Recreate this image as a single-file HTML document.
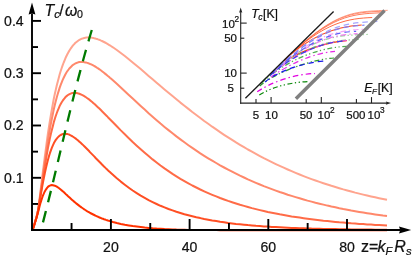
<!DOCTYPE html>
<html><head><meta charset="utf-8"><title>Tc plot</title>
<style>
html,body{margin:0;padding:0;background:#fff;}
body{width:415px;height:257px;overflow:hidden;position:relative;font-family:"Liberation Sans",sans-serif;}
svg text{font-family:"Liberation Sans",sans-serif;}
</style></head><body>
<div style="will-change:transform;position:absolute;left:0;top:0;width:415px;height:257px">
<svg width="415" height="257" viewBox="0 0 415 257" style="position:absolute;left:0;top:0">
<path d="M32.20 230.20 L32.3 230.0 L33.4 227.4 L34.4 224.3 L35.4 220.7 L36.5 217.0 L37.5 213.0 L38.6 206.3 L39.6 198.4 L40.6 190.1 L41.7 181.6 L42.7 173.1 L43.8 164.7 L44.8 156.6 L45.9 148.6 L46.9 141.0 L47.9 133.7 L48.9 127.1 L49.9 120.8 L50.9 114.8 L51.9 109.2 L52.9 103.8 L53.8 98.8 L54.8 94.0 L55.8 89.6 L56.8 85.3 L57.8 81.4 L58.8 77.7 L59.7 74.2 L60.7 71.0 L61.7 68.0 L62.7 65.1 L63.7 62.5 L64.7 60.1 L65.6 57.8 L66.6 55.7 L67.6 53.7 L68.6 51.9 L69.6 50.3 L70.6 48.7 L71.6 47.3 L72.5 46.0 L73.5 44.9 L74.5 43.8 L75.5 42.8 L76.5 42.0 L77.5 41.2 L78.4 40.5 L79.4 39.9 L80.4 39.4 L81.4 38.9 L82.4 38.5 L83.4 38.2 L84.3 37.9 L85.3 37.7 L86.3 37.6 L87.3 37.5 L88.3 37.5 L89.3 37.5 L90.2 37.5 L91.2 37.6 L92.2 37.8 L93.2 37.9 L94.2 38.2 L95.2 38.4 L96.1 38.7 L97.1 39.0 L98.1 39.4 L99.1 39.7 L100.1 40.1 L101.1 40.6 L102.0 41.0 L103.0 41.5 L104.0 42.0 L105.0 42.5 L106.0 43.0 L107.0 43.6 L107.9 44.2 L108.9 44.8 L109.9 45.4 L110.9 46.0 L112.9 47.3 L116.8 50.0 L120.8 53.0 L124.8 56.0 L128.8 59.2 L132.7 62.4 L136.7 65.7 L140.7 69.1 L144.7 72.5 L148.6 75.9 L152.6 79.3 L156.6 82.7 L160.5 86.1 L164.5 89.4 L168.5 92.8 L172.5 96.1 L176.4 99.3 L180.4 102.6 L184.4 105.7 L188.4 108.9 L192.3 112.0 L196.3 115.0 L200.3 118.0 L204.2 121.0 L208.2 123.8 L212.2 126.7 L216.2 129.4 L220.1 132.1 L224.1 134.8 L228.1 137.4 L232.1 139.9 L236.0 142.4 L240.0 144.8 L244.0 147.2 L247.9 149.5 L251.9 151.7 L255.9 153.9 L259.9 156.1 L263.8 158.2 L267.8 160.2 L271.8 162.2 L275.8 164.1 L279.7 165.9 L283.7 167.7 L287.7 169.5 L291.6 171.2 L295.6 172.9 L299.6 174.5 L303.6 176.1 L307.5 177.6 L311.5 179.1 L315.5 180.5 L319.5 181.9 L323.4 183.2 L327.4 184.5 L331.4 185.8 L335.4 187.0 L339.3 188.2 L343.3 189.4 L347.3 190.5 L351.2 191.5 L355.2 192.6 L359.2 193.6 L363.2 194.6 L367.1 195.5 L371.1 196.4 L375.1 197.3 L379.1 198.2 L383.0 199.0 L387.0 199.8" fill="none" stroke="#ffa48e" stroke-width="2" stroke-linejoin="round"/>
<path d="M32.20 230.20 L32.3 230.0 L33.4 227.5 L34.4 224.4 L35.4 220.9 L36.5 217.3 L37.5 213.4 L38.6 207.4 L39.6 200.0 L40.6 192.4 L41.7 184.6 L42.7 176.8 L43.8 169.1 L44.8 161.6 L45.9 154.4 L46.9 147.4 L47.9 140.7 L48.9 134.7 L49.9 129.0 L50.9 123.6 L51.9 118.5 L52.9 113.7 L53.8 109.2 L54.8 104.9 L55.8 101.0 L56.8 97.2 L57.8 93.8 L58.8 90.6 L59.7 87.6 L60.7 84.8 L61.7 82.3 L62.7 79.9 L63.7 77.8 L64.7 75.8 L65.6 74.0 L66.6 72.3 L67.6 70.8 L68.6 69.5 L69.6 68.2 L70.6 67.2 L71.6 66.2 L72.5 65.3 L73.5 64.6 L74.5 64.0 L75.5 63.4 L76.5 63.0 L77.5 62.6 L78.4 62.3 L79.4 62.1 L80.4 62.0 L81.4 62.0 L82.4 62.0 L83.4 62.0 L84.3 62.2 L85.3 62.4 L86.3 62.6 L87.3 62.9 L88.3 63.2 L89.3 63.6 L90.2 64.0 L91.2 64.4 L92.2 64.9 L93.2 65.4 L94.2 66.0 L95.2 66.5 L96.1 67.1 L97.1 67.8 L98.1 68.4 L99.1 69.1 L100.1 69.8 L101.1 70.5 L102.0 71.2 L103.0 72.0 L104.0 72.8 L105.0 73.6 L106.0 74.4 L107.0 75.2 L107.9 76.0 L108.9 76.8 L109.9 77.7 L110.9 78.5 L112.9 80.3 L116.8 83.8 L120.8 87.5 L124.8 91.2 L128.8 94.9 L132.7 98.6 L136.7 102.3 L140.7 106.0 L144.7 109.6 L148.6 113.2 L152.6 116.7 L156.6 120.2 L160.5 123.6 L164.5 126.9 L168.5 130.1 L172.5 133.3 L176.4 136.4 L180.4 139.4 L184.4 142.3 L188.4 145.2 L192.3 147.9 L196.3 150.6 L200.3 153.3 L204.2 155.8 L208.2 158.3 L212.2 160.7 L216.2 163.0 L220.1 165.3 L224.1 167.5 L228.1 169.6 L232.1 171.7 L236.0 173.7 L240.0 175.7 L244.0 177.5 L247.9 179.4 L251.9 181.1 L255.9 182.8 L259.9 184.5 L263.8 186.1 L267.8 187.6 L271.8 189.1 L275.8 190.6 L279.7 192.0 L283.7 193.3 L287.7 194.7 L291.6 195.9 L295.6 197.1 L299.6 198.3 L303.6 199.5 L307.5 200.6 L311.5 201.6 L315.5 202.7 L319.5 203.7 L323.4 204.6 L327.4 205.6 L331.4 206.5 L335.4 207.3 L339.3 208.2 L343.3 209.0 L347.3 209.7 L351.2 210.5 L355.2 211.2 L359.2 211.9 L363.2 212.6 L367.1 213.2 L371.1 213.8 L375.1 214.4 L379.1 215.0 L383.0 215.6 L387.0 216.1" fill="none" stroke="#ff886b" stroke-width="2" stroke-linejoin="round"/>
<path d="M32.20 230.20 L32.3 230.0 L33.4 227.5 L34.4 224.4 L35.4 221.0 L36.5 217.4 L37.5 213.5 L38.6 208.0 L39.6 201.1 L40.6 194.1 L41.7 187.0 L42.7 179.9 L43.8 173.0 L44.8 166.4 L45.9 160.1 L46.9 154.0 L47.9 148.3 L48.9 143.2 L49.9 138.4 L50.9 133.9 L51.9 129.8 L52.9 125.9 L53.8 122.3 L54.8 118.9 L55.8 115.8 L56.8 113.0 L57.8 110.4 L58.8 108.1 L59.7 105.9 L60.7 104.0 L61.7 102.2 L62.7 100.7 L63.7 99.3 L64.7 98.1 L65.6 97.0 L66.6 96.1 L67.6 95.3 L68.6 94.6 L69.6 94.1 L70.6 93.6 L71.6 93.3 L72.5 93.1 L73.5 93.0 L74.5 92.9 L75.5 93.0 L76.5 93.1 L77.5 93.3 L78.4 93.5 L79.4 93.8 L80.4 94.2 L81.4 94.6 L82.4 95.1 L83.4 95.6 L84.3 96.2 L85.3 96.8 L86.3 97.5 L87.3 98.2 L88.3 98.9 L89.3 99.6 L90.2 100.4 L91.2 101.2 L92.2 102.0 L93.2 102.9 L94.2 103.8 L95.2 104.6 L96.1 105.5 L97.1 106.5 L98.1 107.4 L99.1 108.3 L100.1 109.3 L101.1 110.3 L102.0 111.2 L103.0 112.2 L104.0 113.2 L105.0 114.2 L106.0 115.2 L107.0 116.2 L107.9 117.2 L108.9 118.2 L109.9 119.2 L110.9 120.2 L112.9 122.3 L116.8 126.3 L120.8 130.4 L124.8 134.3 L128.8 138.2 L132.7 142.0 L136.7 145.7 L140.7 149.3 L144.7 152.8 L148.6 156.1 L152.6 159.4 L156.6 162.5 L160.5 165.5 L164.5 168.4 L168.5 171.1 L172.5 173.8 L176.4 176.3 L180.4 178.8 L184.4 181.1 L188.4 183.3 L192.3 185.5 L196.3 187.5 L200.3 189.5 L204.2 191.3 L208.2 193.1 L212.2 194.8 L216.2 196.4 L220.1 198.0 L224.1 199.5 L228.1 200.9 L232.1 202.2 L236.0 203.5 L240.0 204.8 L244.0 205.9 L247.9 207.0 L251.9 208.1 L255.9 209.1 L259.9 210.1 L263.8 211.0 L267.8 211.9 L271.8 212.7 L275.8 213.5 L279.7 214.3 L283.7 215.0 L287.7 215.7 L291.6 216.4 L295.6 217.0 L299.6 217.6 L303.6 218.2 L307.5 218.7 L311.5 219.2 L315.5 219.7 L319.5 220.2 L323.4 220.7 L327.4 221.1 L331.4 221.5 L335.4 221.9 L339.3 222.3 L343.3 222.6 L347.3 222.9 L351.2 223.3 L355.2 223.6 L359.2 223.9 L363.2 224.1 L367.1 224.4 L371.1 224.6 L375.1 224.9 L379.1 225.1 L383.0 225.3 L387.0 225.5" fill="none" stroke="#ff6b47" stroke-width="2" stroke-linejoin="round"/>
<path d="M32.20 230.20 L32.3 230.0 L33.4 227.5 L34.4 224.3 L35.4 220.9 L36.5 217.2 L37.5 213.3 L38.6 207.8 L39.6 201.7 L40.6 195.5 L41.7 189.5 L42.7 183.8 L43.8 178.3 L44.8 173.2 L45.9 168.4 L46.9 164.0 L47.9 159.9 L48.9 156.4 L49.9 153.2 L50.9 150.3 L51.9 147.7 L52.9 145.4 L53.8 143.3 L54.8 141.5 L55.8 139.9 L56.8 138.6 L57.8 137.4 L58.8 136.4 L59.7 135.6 L60.7 135.0 L61.7 134.5 L62.7 134.1 L63.7 133.9 L64.7 133.8 L65.6 133.8 L66.6 133.9 L67.6 134.1 L68.6 134.4 L69.6 134.8 L70.6 135.3 L71.6 135.8 L72.5 136.4 L73.5 137.0 L74.5 137.7 L75.5 138.4 L76.5 139.2 L77.5 140.0 L78.4 140.8 L79.4 141.7 L80.4 142.6 L81.4 143.5 L82.4 144.4 L83.4 145.4 L84.3 146.3 L85.3 147.3 L86.3 148.3 L87.3 149.3 L88.3 150.3 L89.3 151.3 L90.2 152.4 L91.2 153.4 L92.2 154.4 L93.2 155.4 L94.2 156.4 L95.2 157.5 L96.1 158.5 L97.1 159.5 L98.1 160.5 L99.1 161.5 L100.1 162.5 L101.1 163.5 L102.0 164.5 L103.0 165.5 L104.0 166.5 L105.0 167.4 L106.0 168.4 L107.0 169.3 L107.9 170.3 L108.9 171.2 L109.9 172.1 L110.9 173.0 L112.9 174.8 L116.8 178.3 L120.8 181.6 L124.8 184.7 L128.8 187.7 L132.7 190.5 L136.7 193.1 L140.7 195.6 L144.7 197.9 L148.6 200.1 L152.6 202.1 L156.6 204.0 L160.5 205.8 L164.5 207.4 L168.5 209.0 L172.5 210.4 L176.4 211.8 L180.4 213.0 L184.4 214.2 L188.4 215.3 L192.3 216.3 L196.3 217.3 L200.3 218.1 L204.2 219.0 L208.2 219.7 L212.2 220.5 L216.2 221.1 L220.1 221.8 L224.1 222.3 L228.1 222.9 L232.1 223.4 L236.0 223.9 L240.0 224.3 L244.0 224.7 L247.9 225.1 L251.9 225.4 L255.9 225.8 L259.9 226.1 L263.8 226.4 L267.8 226.6 L271.8 226.9 L275.8 227.1 L279.7 227.3 L283.7 227.5 L287.7 227.7 L291.6 227.9 L295.6 228.0 L299.6 228.2 L303.6 228.3 L307.5 228.4 L311.5 228.6 L315.5 228.7 L319.5 228.8 L323.4 228.9 L327.4 229.0 L331.4 229.1 L335.4 229.1 L339.3 229.2 L343.3 229.3 L347.3 229.3 L351.2 229.4 L355.2 229.5 L359.2 229.5 L363.2 229.6 L367.1 229.6 L371.1 229.6 L375.1 229.7 L379.1 229.7 L383.0 229.8 L387.0 229.8" fill="none" stroke="#ff4f24" stroke-width="2" stroke-linejoin="round"/>
<path d="M32.20 230.20 L32.3 230.0 L33.4 227.7 L34.4 224.7 L35.4 221.5 L36.5 218.0 L37.5 214.3 L38.6 210.3 L39.6 206.3 L40.6 202.6 L41.7 199.2 L42.7 196.2 L43.8 193.6 L44.8 191.4 L45.9 189.6 L46.9 188.1 L47.9 186.9 L48.9 186.1 L49.9 185.6 L50.9 185.3 L51.9 185.1 L52.9 185.2 L53.8 185.4 L54.8 185.7 L55.8 186.1 L56.8 186.7 L57.8 187.3 L58.8 188.0 L59.7 188.7 L60.7 189.5 L61.7 190.4 L62.7 191.2 L63.7 192.1 L64.7 193.0 L65.6 193.9 L66.6 194.8 L67.6 195.8 L68.6 196.7 L69.6 197.6 L70.6 198.5 L71.6 199.4 L72.5 200.2 L73.5 201.1 L74.5 201.9 L75.5 202.8 L76.5 203.6 L77.5 204.4 L78.4 205.1 L79.4 205.9 L80.4 206.6 L81.4 207.4 L82.4 208.0 L83.4 208.7 L84.3 209.4 L85.3 210.0 L86.3 210.7 L87.3 211.3 L88.3 211.8 L89.3 212.4 L90.2 213.0 L91.2 213.5 L92.2 214.0 L93.2 214.5 L94.2 215.0 L95.2 215.5 L96.1 216.0 L97.1 216.4 L98.1 216.8 L99.1 217.3 L100.1 217.7 L101.1 218.1 L102.0 218.5 L103.0 218.8 L104.0 219.2 L105.0 219.5 L106.0 219.9 L107.0 220.2 L107.9 220.5 L108.9 220.8 L109.9 221.1 L110.9 221.4 L112.9 222.0 L116.8 223.0 L120.8 223.9 L124.8 224.7 L128.8 225.4 L132.7 226.1 L136.7 226.6 L140.7 227.1 L144.7 227.6 L148.6 227.9 L152.6 228.3 L156.6 228.6 L160.5 228.8 L164.5 229.1 L168.5 229.2 L172.5 229.4 L176.4 229.6 L180.4 229.7 L184.4 229.8 L188.4 229.9 L192.3 229.9 L196.3 230.0 L200.3 230.0 L204.2 230.1 L208.2 230.1 L212.2 230.1 L216.2 230.1 L220.1 230.2 L224.1 230.2 L228.1 230.2 L232.1 230.2 L236.0 230.2 L240.0 230.2 L244.0 230.2 L247.9 230.2 L251.9 230.2 L255.9 230.2 L259.9 230.2 L263.8 230.2 L267.8 230.2 L271.8 230.2 L275.8 230.2 L279.7 230.2 L283.7 230.2 L287.7 230.2 L291.6 230.2 L295.6 230.2 L299.6 230.2 L303.6 230.2 L307.5 230.2 L311.5 230.2 L315.5 230.2 L319.5 230.2 L323.4 230.2 L327.4 230.2 L331.4 230.2 L335.4 230.2 L339.3 230.2 L343.3 230.2 L347.3 230.2 L351.2 230.2 L355.2 230.2 L359.2 230.2 L363.2 230.2 L367.1 230.2 L371.1 230.2 L375.1 230.2 L379.1 230.2 L383.0 230.2 L387.0 230.2" fill="none" stroke="#ff3200" stroke-width="2" stroke-linejoin="round"/>
<path d="M91.79 30.00 L89.41 38.02 L87.10 46.03 L84.84 54.05 L82.63 62.07 L80.48 70.08 L78.36 78.10 L76.29 86.12 L74.26 94.13 L72.25 102.15 L70.27 110.17 L68.32 118.18 L66.38 126.20 L64.46 134.22 L62.55 142.23 L60.64 150.25 L58.73 158.27 L56.82 166.28 L54.90 174.30 L52.97 182.32 L51.02 190.33 L49.05 198.35 L47.06 206.37 L45.04 214.38 L42.98 222.40" fill="none" stroke="#007a00" stroke-width="2.3" stroke-dasharray="11.8 8.95"/>
<g stroke="#000" stroke-width="1.9" fill="none">
<path d="M32.00 230.95 L32.00 13.5"/>
<path d="M31.05 230.00 L400.5 230.00"/>
<path d="M71.55 230.00 L71.55 223.00"/>
<path d="M110.90 230.00 L110.90 219.00"/>
<path d="M150.25 230.00 L150.25 223.00"/>
<path d="M189.60 230.00 L189.60 219.00"/>
<path d="M228.95 230.00 L228.95 223.00"/>
<path d="M268.30 230.00 L268.30 219.00"/>
<path d="M307.65 230.00 L307.65 223.00"/>
<path d="M347.00 230.00 L347.00 219.00"/>
<path d="M32.00 203.95 L38.00 203.95"/>
<path d="M32.00 177.80 L41.00 177.80"/>
<path d="M32.00 151.65 L38.00 151.65"/>
<path d="M32.00 125.50 L41.00 125.50"/>
<path d="M32.00 99.35 L38.00 99.35"/>
<path d="M32.00 73.20 L41.00 73.20"/>
<path d="M32.00 47.05 L38.00 47.05"/>
<path d="M32.00 20.90 L41.00 20.90"/>
</g>
<path d="M32.00 2.6 L35.40 14.6 L32.00 13.4 L28.60 14.6 Z" fill="#000"/>
<path d="M411.2 230.00 L399 226.60 L400.2 230.00 L399 233.40 Z" fill="#000"/>
<g fill="none">
<path d="M284.6 60 C337.2 9 354.7 11.9 387.7 10.3" stroke="#ff9176" stroke-width="0.9"/>
<path d="M284.6 60 C333.6 12.5 352.2 12.7 382.5 11.2" stroke="#ff7e5e" stroke-width="0.9"/>
<path d="M284.6 60 C331.3 14.7 352.3 14.2 380 12.8" stroke="#ff6b47" stroke-width="0.9"/>
<path d="M284.6 60 C324.9 20.9 349.4 18.6 372.2 17.5" stroke="#ff582f" stroke-width="0.9"/>
<path d="M284.6 60 C315.4 30.4 344.7 25.7 361.7 24.9" stroke="#ff4518" stroke-width="1.05"/>
<path d="M284.2 61.2 C303 50.3 328 41.5 346.8 40.6" stroke="#ff3200" stroke-width="1.3"/>
<path d="M263 80.9 C313.1 33.5 336.7 35.7 368.8 34.4" stroke="#96d096" stroke-width="1.2" stroke-dasharray="5 2.5 1.3 2.5 1.3 2.5"/>
<path d="M262 82.1 C305.2 41.6 334.3 40.5 358.6 39.5" stroke="#72be72" stroke-width="1.2" stroke-dasharray="5 2.5 1.3 2.5 1.3 2.5"/>
<path d="M261 83.4 C294.7 52.9 329.8 47 347 46.3" stroke="#4fac4f" stroke-width="1.2" stroke-dasharray="5 2.5 1.3 2.5 1.3 2.5"/>
<path d="M259.7 86 C278.3 70.2 316.2 58.7 334 58" stroke="#2c992c" stroke-width="1.2" stroke-dasharray="5 2.5 1.3 2.5 1.3 2.5"/>
<path d="M259.3 94.9 C274.6 85.7 293.4 82.1 308.7 81.6" stroke="#088708" stroke-width="1.2" stroke-dasharray="5 2.5 1.3 2.5 1.3 2.5"/>
<path d="M274 71 C317.9 32 338.9 30.2 368.8 29" stroke="#f6a5f6" stroke-width="1.2" stroke-dasharray="5.5 3 1.5 3"/>
<path d="M273 72.3 C311.6 38.8 335.4 34.6 357.6 33.7" stroke="#f17cf1" stroke-width="1.2" stroke-dasharray="5.5 3 1.5 3"/>
<path d="M272 73.9 C305.1 46.8 331 41.3 346.6 40.5" stroke="#ec52ec" stroke-width="1.2" stroke-dasharray="5.5 3 1.5 3"/>
<path d="M271 77.2 C298.9 57.1 325 51.8 335 51.4" stroke="#e629e6" stroke-width="1.2" stroke-dasharray="5.5 3 1.5 3"/>
<path d="M257.2 91.8 C268.8 83.7 291.9 74.2 315 73.5" stroke="#e100e1" stroke-width="1.2" stroke-dasharray="5.5 3 1.5 3"/>
<path d="M273 71.9 C323.5 24.5 343.6 22.8 378 21.4" stroke="#a5a5ff" stroke-width="1.2" stroke-dasharray="5.5 4"/>
<path d="M272 72.9 C317 30.9 338.9 26.2 364.5 25.2" stroke="#8282fa" stroke-width="1.2" stroke-dasharray="5.5 4"/>
<path d="M271 74.1 C310.5 37.7 337.1 32.1 356.2 31.3" stroke="#5f5ff5" stroke-width="1.2" stroke-dasharray="5.5 4"/>
<path d="M270 75.7 C302 47.1 330.6 41.7 346 40.9" stroke="#3c3cf0" stroke-width="1.2" stroke-dasharray="5.5 4"/>
<path d="M265 82 C280.2 69.1 310.6 61.5 325.8 60.9" stroke="#1919eb" stroke-width="1.2" stroke-dasharray="5.5 4"/>
</g>
<path d="M245.4 98.3 L333.6 11.5" stroke="#1a1a1a" stroke-width="1.3" fill="none"/>
<path d="M295.9 98.8 L384.6 10.4" stroke="#808080" stroke-width="3.5" fill="none"/>
<g stroke="#222" stroke-width="1.1" fill="none">
<path d="M240.7 103.65 L240.7 11"/>
<path d="M240.15 103.1 L387 103.1"/>
<path d="M256.0 103.1 L256.0 99.1"/>
<path d="M271.1 103.1 L271.1 97.1"/>
<path d="M306.2 103.1 L306.2 99.1"/>
<path d="M321.3 103.1 L321.3 97.1"/>
<path d="M356.4 103.1 L356.4 99.1"/>
<path d="M371.5 103.1 L371.5 97.1"/>
<path d="M240.7 88.2 L244.3 88.2"/>
<path d="M240.7 73.1 L246.7 73.1"/>
<path d="M240.7 38.2 L244.3 38.2"/>
<path d="M240.7 23.1 L246.7 23.1"/>
</g>
<path d="M240.7 7.5 L242.3 12.8 L240.7 12 L239.1 12.8 Z" fill="#222"/>
<path d="M391.1 103.1 L385.8 101.5 L386.6 103.1 L385.8 104.7 Z" fill="#222"/>
<g font-family="Liberation Sans, sans-serif" fill="#111" stroke="#111" stroke-width="0.22"><text x="23.70" y="182.70" font-size="14.10" text-anchor="end" >0.1</text>
<text x="23.70" y="130.40" font-size="14.10" text-anchor="end" >0.2</text>
<text x="23.70" y="78.10" font-size="14.10" text-anchor="end" >0.3</text>
<text x="23.70" y="25.80" font-size="14.10" text-anchor="end" >0.4</text>
<text x="110.90" y="252.20" font-size="14.10" text-anchor="middle" >20</text>
<text x="189.60" y="252.20" font-size="14.10" text-anchor="middle" >40</text>
<text x="268.30" y="252.20" font-size="14.10" text-anchor="middle" >60</text>
<text x="347.00" y="252.20" font-size="14.10" text-anchor="middle" >80</text>
<text x="44.60" y="15.75" font-size="15.80" text-anchor="start" font-style="italic">T</text>
<text x="54.20" y="18.40" font-size="11.30" text-anchor="start" font-style="italic">c</text>
<text x="59.30" y="15.75" font-size="15.80" text-anchor="start" >/</text>
<text x="65.00" y="15.75" font-size="15.80" text-anchor="start" font-style="italic">ω</text>
<text x="77.00" y="18.20" font-size="10.60" text-anchor="start" >0</text>
<text x="361.00" y="251.60" font-size="16.00" text-anchor="start" >z=</text>
<text x="377.40" y="251.60" font-size="16.00" text-anchor="start" font-style="italic">k</text>
<text x="385.50" y="254.90" font-size="11.00" text-anchor="start" font-style="italic">F</text>
<text x="394.20" y="251.60" font-size="16.00" text-anchor="start" font-style="italic">R</text>
<text x="406.00" y="254.90" font-size="11.30" text-anchor="start" font-style="italic">s</text>
<text x="230.60" y="42.30" font-size="11.50" text-anchor="middle" >50</text>
<text x="230.60" y="77.25" font-size="11.50" text-anchor="middle" >10</text>
<text x="230.60" y="92.30" font-size="11.50" text-anchor="middle" >5</text>
<text x="222.00" y="28.00" font-size="11.50" text-anchor="start" >10<tspan font-size="8.3" dy="-5.7" dx="-0.3">2</tspan></text>
<text x="255.90" y="118.70" font-size="11.50" text-anchor="middle" >5</text>
<text x="271.40" y="118.70" font-size="11.50" text-anchor="middle" >10</text>
<text x="306.10" y="118.70" font-size="11.50" text-anchor="middle" >50</text>
<text x="355.90" y="118.70" font-size="11.50" text-anchor="middle" >500</text>
<text x="317.60" y="118.70" font-size="11.50" text-anchor="start" >10<tspan font-size="8.3" dy="-5.7" dx="-0.3">2</tspan></text>
<text x="367.60" y="118.70" font-size="11.50" text-anchor="start" >10<tspan font-size="8.3" dy="-5.7" dx="-0.3">3</tspan></text>
<text x="251.30" y="17.70" font-size="12.20" text-anchor="start" ><tspan font-style="italic">T</tspan><tspan font-style="italic" font-size="8.8" dy="1.9" dx="-0.4">c</tspan><tspan dy="-1.9" dx="0.3">[K]</tspan></text>
<text x="364.20" y="91.80" font-size="12.20" text-anchor="start" ><tspan font-style="italic">E</tspan><tspan font-style="italic" font-size="8" dy="1.8" dx="-0.3">F</tspan><tspan dy="-1.8" dx="0.8">[K]</tspan></text></g>
</svg>
</div>
</body></html>
